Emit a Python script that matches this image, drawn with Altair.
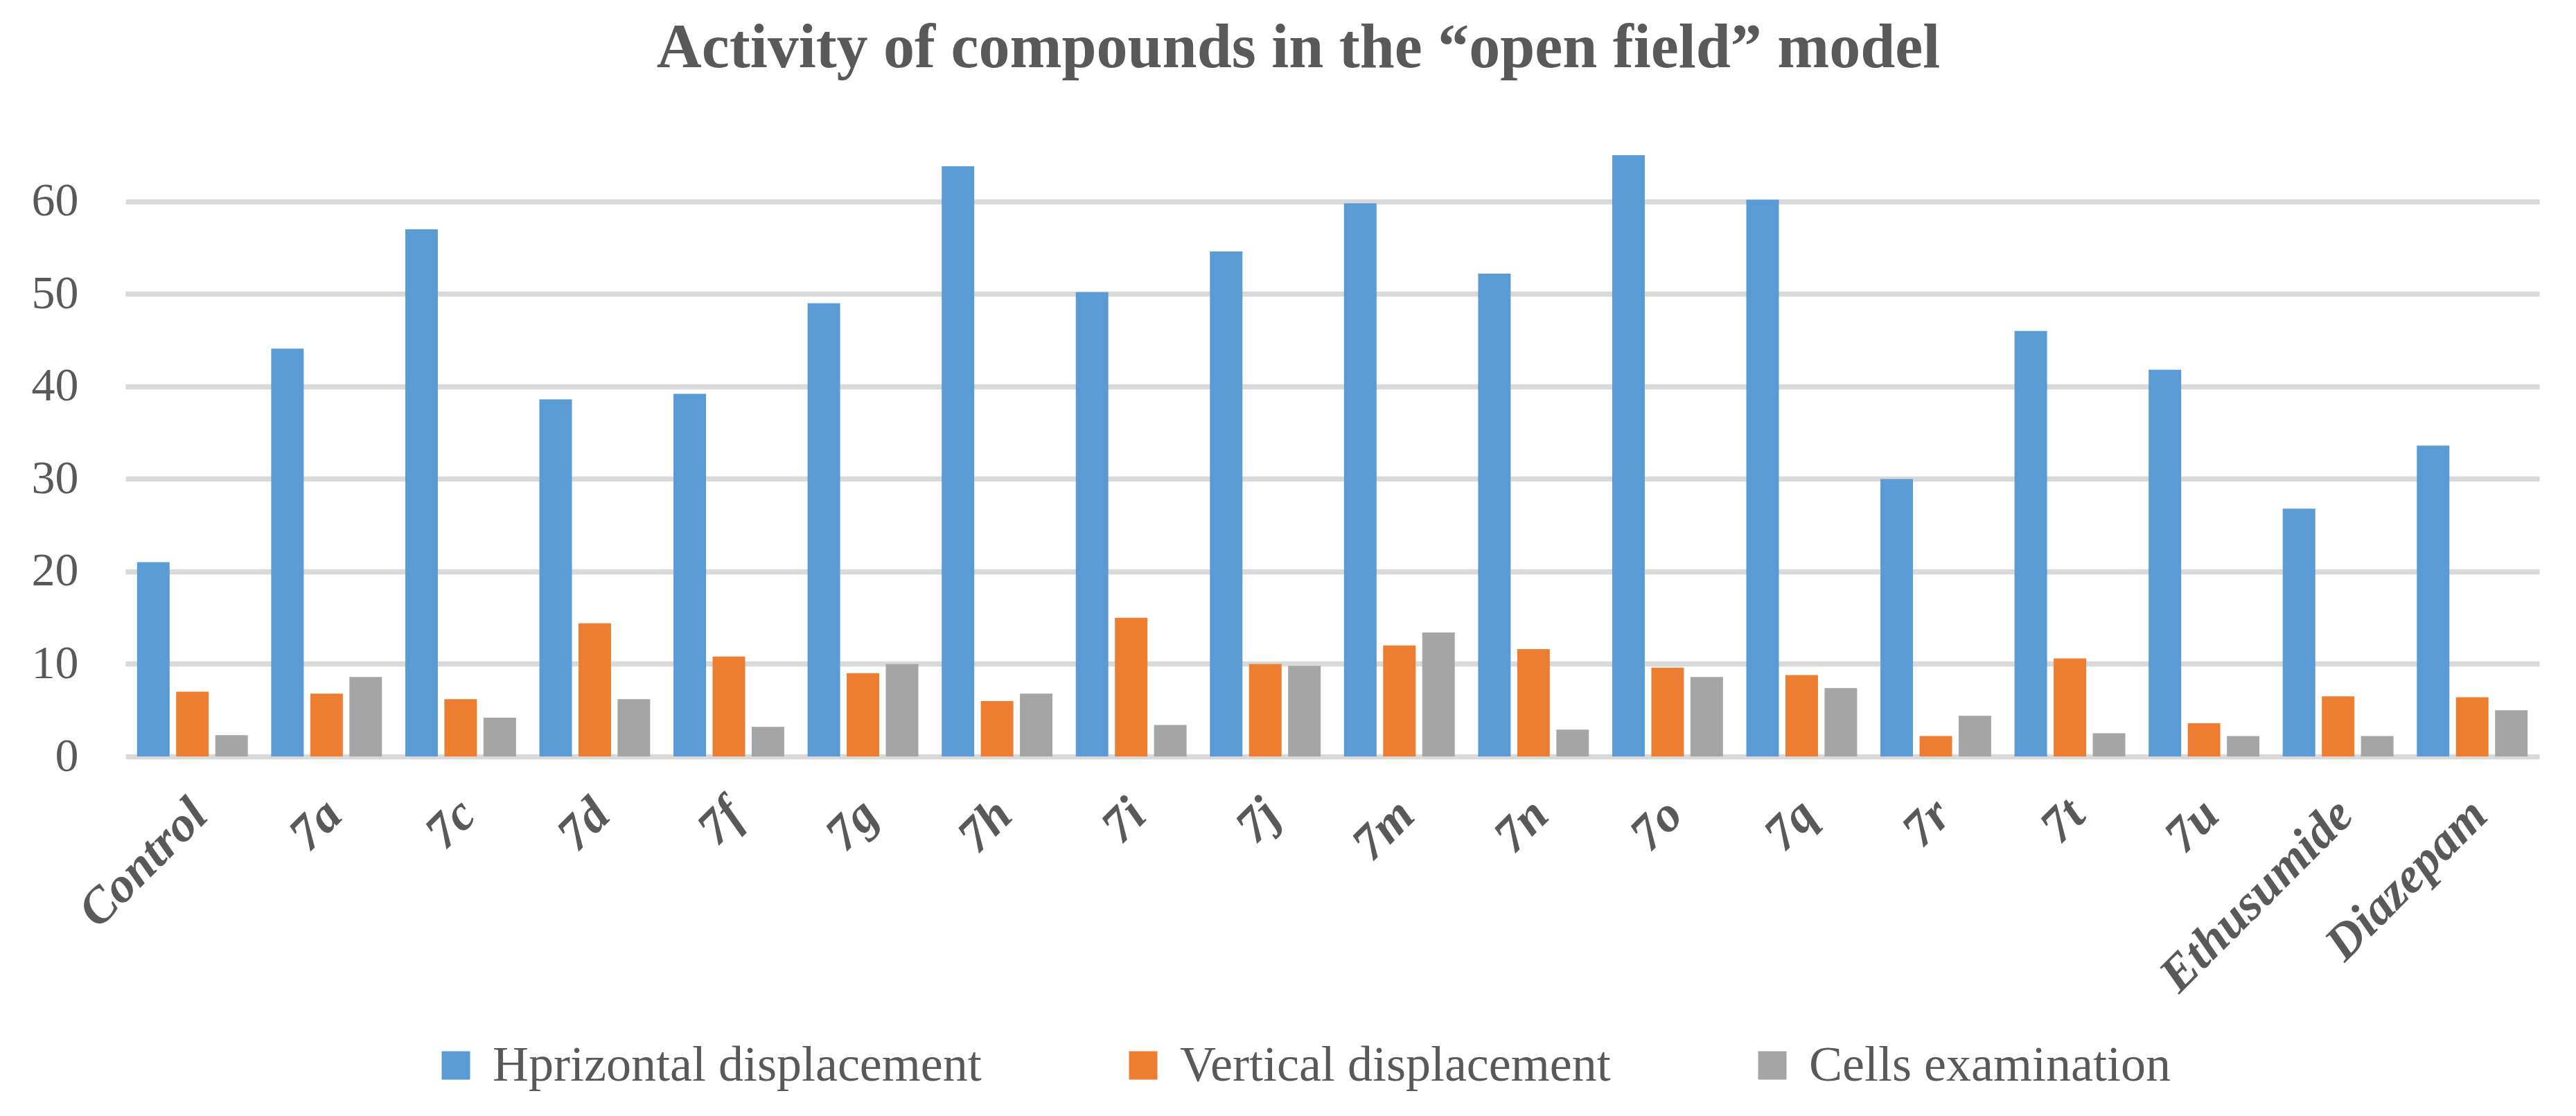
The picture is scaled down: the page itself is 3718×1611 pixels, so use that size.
import altair as alt
import pandas as pd

categories = ["Control", "7a", "7c", "7d", "7f", "7g", "7h", "7i", "7j", "7m",
              "7n", "7o", "7q", "7r", "7t", "7u", "Ethusumide", "Diazepam"]
series_names = ["Hprizontal displacement", "Vertical displacement", "Cells examination"]
horizontal = [21.0, 44.1, 57.0, 38.6, 39.2, 49.0, 63.8, 50.2, 54.6, 59.8,
              52.2, 65.0, 60.2, 30.0, 46.0, 41.8, 26.8, 33.6]
vertical = [7.0, 6.8, 6.2, 14.4, 10.8, 9.0, 6.0, 15.0, 10.0, 12.0,
            11.6, 9.6, 8.8, 2.2, 10.6, 3.6, 6.5, 6.4]
cells = [2.3, 8.6, 4.2, 6.2, 3.2, 10.0, 6.8, 3.4, 9.8, 13.4,
         2.9, 8.6, 7.4, 4.4, 2.5, 2.2, 2.2, 5.0]
colors = ["#5B9BD5", "#ED7D31", "#A5A5A5"]
y_ticks = [0, 10, 20, 30, 40, 50, 60]

rows = []
for series, vals in zip(series_names, [horizontal, vertical, cells]):
    for c, v in zip(categories, vals):
        rows.append({"Compound": c, "Series": series, "Value": v})
df = pd.DataFrame(rows)

FONT = "Liberation Serif"
TXT = "#595959"

chart = alt.Chart(df).mark_bar().encode(
    x=alt.X("Compound:N", sort=categories, title=None,
            scale=alt.Scale(paddingInner=0.174, paddingOuter=0.087),
            axis=alt.Axis(labelAngle=-45, labelAlign="right", labelBaseline="top",
                          labelPadding=48, labelOffset=-15, labelFont=FONT,
                          labelFontSize=72, labelFontWeight="bold", labelFontStyle="italic",
                          labelColor=TXT, labelLimit=2000, labelOverlap=False,
                          domain=False, ticks=False, grid=False)),
    xOffset=alt.XOffset("Series:N", sort=series_names,
                        scale=alt.Scale(paddingInner=0.168, paddingOuter=0)),
    y=alt.Y("Value:Q", title=None,
            scale=alt.Scale(domain=[0, 68], nice=False),
            axis=alt.Axis(values=y_ticks, labelFont=FONT, labelFontSize=68,
                          labelColor=TXT, labelPadding=68, tickSize=0, ticks=False,
                          domain=False, grid=True, gridColor="#D9D9D9", gridWidth=7.5)),
    color=alt.Color("Series:N", sort=series_names,
                    scale=alt.Scale(domain=series_names, range=colors),
                    legend=alt.Legend(title=None, orient="none", direction="horizontal",
                                      legendX=441, legendY=1318, symbolType="square",
                                      symbolSize=1681, symbolStrokeWidth=0,
                                      labelFont=FONT, labelFontSize=72, labelColor=TXT,
                                      labelOffset=17, columnPadding=197, padding=0,
                                      labelLimit=2000)),
).properties(
    width=3484,
    height=908,
    title=alt.TitleParams("Activity of compounds in the \u201copen field\u201d model",
                          font=FONT, fontSize=90, fontWeight="bold", color=TXT,
                          anchor="middle", frame="group", dx=-49, offset=68),
    autosize=alt.AutoSizeParams(type="none"),
    padding={"left": 173, "top": 176, "right": 45, "bottom": 505},
).configure_view(stroke=None)

chart.save("out.html", embed_options={"renderer": "svg", "actions": False})
